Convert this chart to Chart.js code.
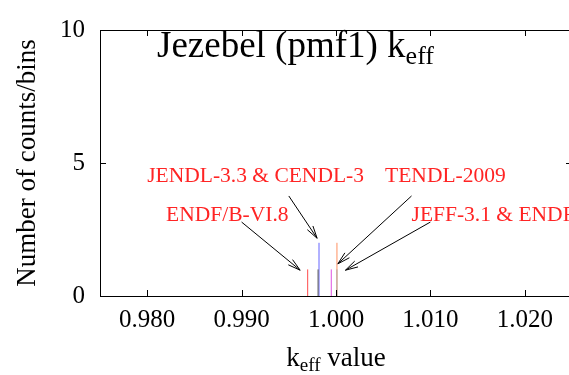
<!DOCTYPE html>
<html>
<head>
<meta charset="utf-8">
<script src="https://cdn.jsdelivr.net/npm/chart.js@4.4.1/dist/chart.umd.min.js"></script>
<style>
  html, body { margin: 0; padding: 0; overflow: hidden; background: #fff; }
  #precarga { position: absolute; left: -999px; top: 0; font-family: "Liberation Serif"; }
</style>
</head>
<body>
<span id="precarga">Jezebel 0.980</span>
<canvas id="myChart" width="580" height="375"></canvas>
<script>
// k_eff valores por biblioteca y cuentas del histograma
var kValues = [0.9970, 0.9981, 0.9982, 0.9995, 1.0001, 1.0001];
var counts = [1, 1, 2, 1, 1, 2];
var lineColors = ['#ff4a4a', '#555555', '#6464ff', '#e050e0', '#a8a8a8', '#ff9060'];

var xTicks = [0.980, 0.990, 1.000, 1.010, 1.020];
var yTicks = [0, 5, 10];

// etiquetas y flechas (coordenadas de datos)
var labelNames = ['JENDL-3.3 & CENDL-3', 'TENDL-2009', 'ENDF/B-VI.8', 'JEFF-3.1 & ENDF/B-VII.0'];
var labelX = [0.9800, 1.0052, 0.9820, 1.0080];
var labelY = [4.28, 4.28, 2.83, 2.83];
var arrowFromX = [0.9950, 1.0080, 0.9900, 1.0100];
var arrowFromY = [3.76, 3.76, 2.78, 2.78];
var arrowToX = [0.9980, 1.0002, 0.9962, 1.0010];
var arrowToY = [2.17, 1.21, 0.97, 0.97];

var serif = '"Liberation Serif"';

function textoSub(ctx, x, y, main, sub, rest, size, align) {
    ctx.font = size + 'px ' + serif;
    var w1 = ctx.measureText(main).width;
    ctx.font = Math.round(size * 0.7) + 'px ' + serif;
    var w2 = ctx.measureText(sub).width;
    ctx.font = size + 'px ' + serif;
    var w3 = ctx.measureText(rest).width;
    var total = w1 + w2 + w3;
    var x0 = align === 'center' ? x - total / 2 : x;
    ctx.textAlign = 'left';
    ctx.textBaseline = 'alphabetic';
    ctx.fillText(main, x0, y);
    ctx.font = Math.round(size * 0.7) + 'px ' + serif;
    ctx.fillText(sub, x0 + w1, y + size * 0.2);
    ctx.font = size + 'px ' + serif;
    ctx.fillText(rest, x0 + w1 + w2, y);
}

var extras = {
    id: 'extras',
    afterDraw: function(chart) {
        var ctx = chart.ctx;
        var a = chart.chartArea;
        var xs = chart.scales.x, ys = chart.scales.y;
        ctx.save();
        // marco
        ctx.strokeStyle = '#000';
        ctx.lineWidth = 1;
        ctx.strokeRect(Math.round(a.left) + 0.5, Math.round(a.top) + 0.5,
            Math.round(a.right - a.left), Math.round(a.bottom - a.top));
        // ticks hacia adentro
        ctx.beginPath();
        xTicks.forEach(function(v) {
            var px = Math.round(xs.getPixelForValue(v)) + 0.5;
            ctx.moveTo(px, a.bottom); ctx.lineTo(px, a.bottom - 6);
            ctx.moveTo(px, a.top); ctx.lineTo(px, a.top + 6);
        });
        yTicks.forEach(function(v) {
            var py = Math.round(ys.getPixelForValue(v)) + 0.5;
            ctx.moveTo(a.left, py); ctx.lineTo(a.left + 6, py);
            ctx.moveTo(a.right, py); ctx.lineTo(a.right - 6, py);
        });
        ctx.stroke();
        // flechas
        for (var i = 0; i < arrowFromX.length; i++) {
            var x1 = xs.getPixelForValue(arrowFromX[i]), y1 = ys.getPixelForValue(arrowFromY[i]);
            var x2 = xs.getPixelForValue(arrowToX[i]), y2 = ys.getPixelForValue(arrowToY[i]);
            var ang = Math.atan2(y2 - y1, x2 - x1);
            ctx.beginPath();
            ctx.moveTo(x1, y1); ctx.lineTo(x2, y2);
            ctx.moveTo(x2 - 13 * Math.cos(ang - 0.26), y2 - 13 * Math.sin(ang - 0.26));
            ctx.lineTo(x2, y2);
            ctx.lineTo(x2 - 13 * Math.cos(ang + 0.26), y2 - 13 * Math.sin(ang + 0.26));
            ctx.stroke();
        }
        // etiquetas
        ctx.fillStyle = '#ff2424';
        ctx.font = '21.5px ' + serif;
        ctx.textAlign = 'left';
        ctx.textBaseline = 'alphabetic';
        for (var j = 0; j < labelNames.length; j++) {
            ctx.fillText(labelNames[j], xs.getPixelForValue(labelX[j]), ys.getPixelForValue(labelY[j]));
        }
        // titulo y ejes
        ctx.fillStyle = '#000';
        textoSub(ctx, 157, 57, 'Jezebel (pmf1) k', 'eff', '', 37, 'left');
        textoSub(ctx, (a.left + a.right) / 2, 366, 'k', 'eff', ' value', 27, 'center');
        ctx.save();
        ctx.translate(35, (a.top + a.bottom) / 2);
        ctx.rotate(-Math.PI / 2);
        ctx.font = '27px ' + serif;
        ctx.textAlign = 'center';
        ctx.textBaseline = 'alphabetic';
        ctx.fillText('Number of counts/bins', 0, 0);
        ctx.restore();
        ctx.restore();
    }
};

function graficar() {
    var datasets = [];
    for (var i = 0; i < kValues.length; i++) {
        datasets.push({
            data: [{ x: kValues[i], y: 0 }, { x: kValues[i], y: counts[i] }],
            borderColor: lineColors[i],
            borderWidth: 1,
            pointRadius: 0,
            fill: false
        });
    }

    new Chart(document.getElementById('myChart').getContext('2d'), {
        type: 'line',
        data: { datasets: datasets },
        options: {
            responsive: false,
            animation: false,
            layout: { padding: { top: 20, right: 8, left: 0, bottom: 0 } },
            plugins: { legend: { display: false }, tooltip: { enabled: false } },
            scales: {
                x: {
                    type: 'linear',
                    min: 0.975,
                    max: 1.025,
                    grid: { display: false, drawTicks: false },
                    border: { display: false },
                    afterBuildTicks: function(s) { s.ticks = xTicks.map(function(v) { return { value: v }; }); },
                    afterFit: function(s) { s.height = 79; },
                    ticks: {
                        padding: 9,
                        maxRotation: 0,
                        color: '#000',
                        font: { family: serif, size: 25 },
                        callback: function(v) { return Number(v).toFixed(3); }
                    }
                },
                y: {
                    min: 0,
                    max: 10,
                    grid: { display: false, drawTicks: false },
                    border: { display: false },
                    afterBuildTicks: function(s) { s.ticks = yTicks.map(function(v) { return { value: v }; }); },
                    afterFit: function(s) { s.width = 100; },
                    ticks: {
                        padding: 15,
                        color: '#000',
                        font: { family: serif, size: 25 }
                    }
                }
            }
        },
        plugins: [extras]
    });
}

// espera a que la fuente serif este lista
Promise.all([
    document.fonts.load('25px "Liberation Serif"'),
    document.fonts.load('37px "Liberation Serif"')
]).then(graficar, graficar);
</script>
</body>
</html>
